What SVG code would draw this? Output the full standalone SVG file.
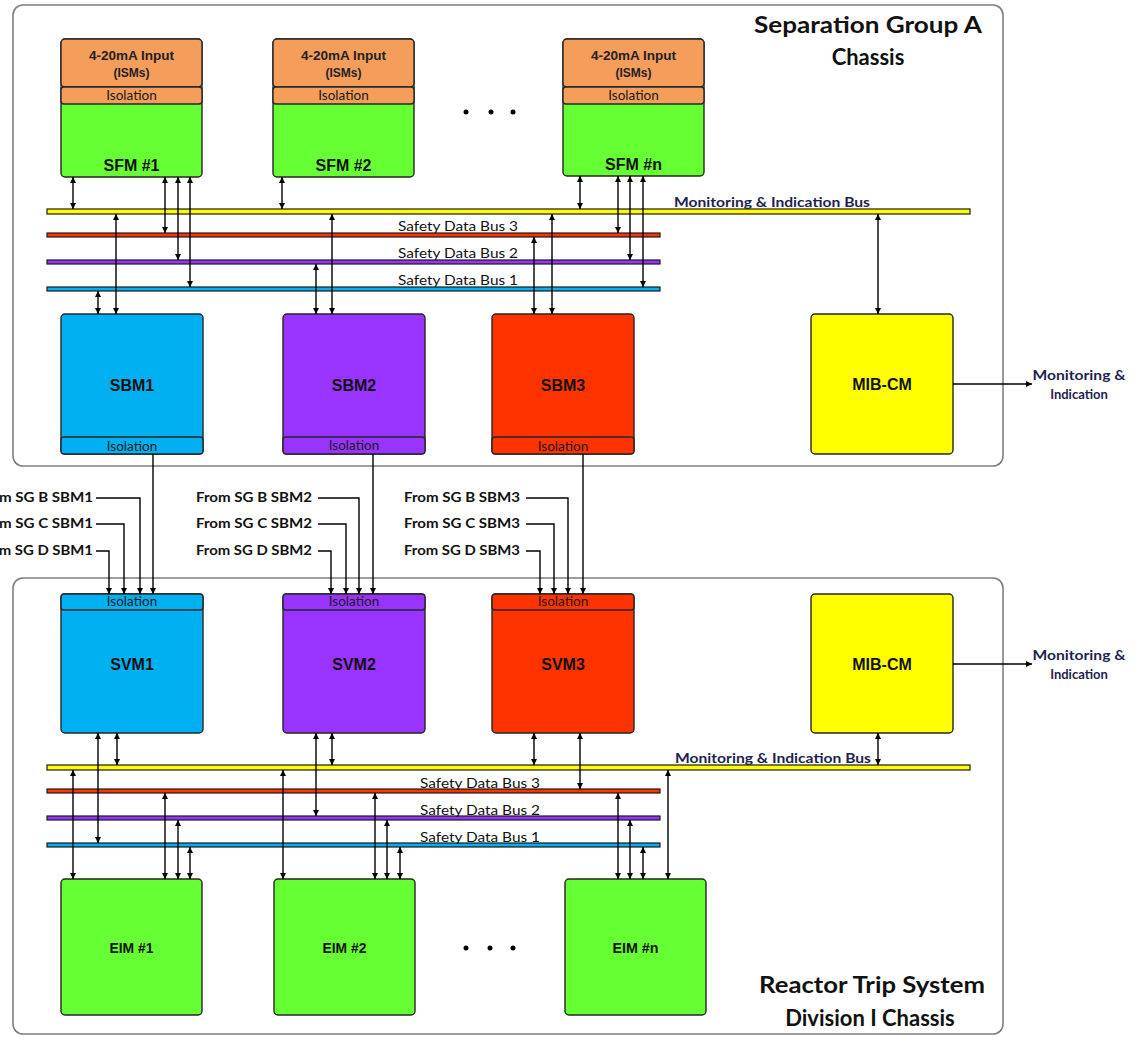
<svg xmlns="http://www.w3.org/2000/svg" width="1144" height="1037" viewBox="0 0 1144 1037">
<defs>
<marker id="ah" viewBox="0 0 6 6" refX="6" refY="3" markerWidth="6" markerHeight="6" markerUnits="userSpaceOnUse" orient="auto-start-reverse">
<path d="M0,0 L6,3 L0,6 z" fill="#000"/>
</marker>
<style>
.chassis{fill:#fff;stroke:#7f7f7f;stroke-width:1.6}
.box{stroke:#262626;stroke-width:1.4}
.green{fill:#66FF33}.orange{fill:#F59D5B}.blue{fill:#00B0F0}.purple{fill:#9933FF}.red{fill:#FF3300}.yellow{fill:#FFFF00}
.bus{stroke:#1a1a1a;stroke-width:1.2}
.c{fill:none;stroke:#000;stroke-width:1.4}
.bi{marker-start:url(#ah);marker-end:url(#ah)}
.one{marker-end:url(#ah)}
.lbl{font-family:"Liberation Sans",Arial,sans-serif;font-weight:bold;font-size:16px;fill:#111;text-anchor:middle}
.small{font-family:"Liberation Sans",Arial,sans-serif;font-weight:bold;font-size:12px;fill:#222;text-anchor:middle}
.eim{font-family:"Liberation Sans",Arial,sans-serif;font-weight:bold;font-size:14px;fill:#111;text-anchor:middle}
.iso{font-family:Lato,"Open Sans",sans-serif;font-size:13.5px;fill:#1a1a1a;text-anchor:middle}
.title{font-family:Lato,"Open Sans",sans-serif;font-weight:bold;font-size:22px;fill:#111;text-anchor:middle}
.busl{font-family:Lato,"Open Sans",sans-serif;font-weight:bold;font-size:13px;fill:#1F1F50;text-anchor:middle}
.sdb{font-family:Lato,"Open Sans",sans-serif;font-size:13px;fill:#111;text-anchor:middle}
.from{font-family:Lato,"Open Sans",sans-serif;font-weight:bold;font-size:12.5px;fill:#111;text-anchor:end}
.mon{font-family:Lato,"Open Sans",sans-serif;font-weight:bold;font-size:13px;fill:#1F1F50;text-anchor:middle}
</style>
</defs>
<rect width="1144" height="1037" fill="#fff"/>

<g id="chassis-a">
<rect class="chassis" x="13" y="5" width="990" height="461" rx="10"/>
<text class="title" x="868" y="33" textLength="228" lengthAdjust="spacingAndGlyphs">Separation Group A</text>
<text class="title" x="868" y="65">Chassis</text>
</g>
<g id="chassis-b">
<rect class="chassis" x="13" y="578" width="990" height="456" rx="10"/>
<text class="title" x="872" y="993" textLength="226" lengthAdjust="spacingAndGlyphs">Reactor Trip System</text>
<text class="title" x="870" y="1026">Division I Chassis</text>
</g>

<g id="buses">
<rect class="bus yellow" x="47" y="209" width="923" height="5"/>
<rect class="bus red" x="47" y="233" width="613" height="4"/>
<rect class="bus purple" x="47" y="260" width="613" height="4"/>
<rect class="bus blue" x="47" y="287" width="613" height="4"/>
<text class="busl" x="772" y="207" textLength="196" lengthAdjust="spacingAndGlyphs">Monitoring &amp; Indication Bus</text>
<text class="sdb" x="458" y="231" textLength="120" lengthAdjust="spacingAndGlyphs">Safety Data Bus 3</text>
<text class="sdb" x="458" y="258" textLength="120" lengthAdjust="spacingAndGlyphs">Safety Data Bus 2</text>
<text class="sdb" x="458" y="285" textLength="120" lengthAdjust="spacingAndGlyphs">Safety Data Bus 1</text>

<rect class="bus yellow" x="47" y="765" width="923" height="5"/>
<rect class="bus red" x="47" y="789" width="613" height="4"/>
<rect class="bus purple" x="47" y="816" width="613" height="4"/>
<rect class="bus blue" x="47" y="843" width="613" height="4"/>
<text class="busl" x="773" y="763" textLength="196" lengthAdjust="spacingAndGlyphs">Monitoring &amp; Indication Bus</text>
<text class="sdb" x="480" y="788" textLength="120" lengthAdjust="spacingAndGlyphs">Safety Data Bus 3</text>
<text class="sdb" x="480" y="815" textLength="120" lengthAdjust="spacingAndGlyphs">Safety Data Bus 2</text>
<text class="sdb" x="480" y="842" textLength="120" lengthAdjust="spacingAndGlyphs">Safety Data Bus 1</text>
</g>

<g id="sfm1">
<rect class="box green" x="61" y="39" width="141" height="138" rx="4"/>
<rect class="box orange" x="61" y="39" width="141" height="48" rx="4"/>
<rect class="box orange" x="61" y="87" width="141" height="17" rx="3"/>
<text class="small" x="131.5" y="60" textLength="85" lengthAdjust="spacingAndGlyphs">4-20mA Input</text>
<text class="small" x="131.5" y="77">(ISMs)</text>
<text class="iso" x="131.5" y="100">Isolation</text>
<text class="lbl" x="131.5" y="171">SFM #1</text>
</g>
<g id="sfm2">
<rect class="box green" x="273" y="39" width="141" height="138" rx="4"/>
<rect class="box orange" x="273" y="39" width="141" height="48" rx="4"/>
<rect class="box orange" x="273" y="87" width="141" height="17" rx="3"/>
<text class="small" x="343.5" y="60" textLength="85" lengthAdjust="spacingAndGlyphs">4-20mA Input</text>
<text class="small" x="343.5" y="77">(ISMs)</text>
<text class="iso" x="343.5" y="100">Isolation</text>
<text class="lbl" x="343.5" y="171">SFM #2</text>
</g>
<g id="sfmn">
<rect class="box green" x="563" y="39" width="141" height="137" rx="4"/>
<rect class="box orange" x="563" y="39" width="141" height="48" rx="4"/>
<rect class="box orange" x="563" y="87" width="141" height="17" rx="3"/>
<text class="small" x="633.5" y="60" textLength="85" lengthAdjust="spacingAndGlyphs">4-20mA Input</text>
<text class="small" x="633.5" y="77">(ISMs)</text>
<text class="iso" x="633.5" y="100">Isolation</text>
<text class="lbl" x="633.5" y="170">SFM #n</text>
</g>
<g id="dots-top">
<circle cx="466" cy="112" r="2.5"/><circle cx="491" cy="112" r="2.5"/><circle cx="513" cy="112" r="2.5"/>
</g>

<g id="sbm1">
<rect class="box blue" x="61" y="314" width="142" height="140" rx="4"/>
<rect class="box blue" x="61" y="437" width="142" height="17" rx="3"/>
<text class="lbl" x="132" y="391">SBM1</text>
<text class="iso" x="132" y="451">Isolation</text>
</g>
<g id="sbm2">
<rect class="box purple" x="283" y="314" width="142" height="140" rx="4"/>
<rect class="box purple" x="283" y="437" width="142" height="17" rx="3"/>
<text class="lbl" x="354" y="391">SBM2</text>
<text class="iso" x="354" y="450">Isolation</text>
</g>
<g id="sbm3">
<rect class="box red" x="492" y="314" width="142" height="140" rx="4"/>
<rect class="box red" x="492" y="437" width="142" height="17" rx="3"/>
<text class="lbl" x="563" y="391">SBM3</text>
<text class="iso" x="563" y="451">Isolation</text>
</g>
<g id="mibcm-a">
<rect class="box yellow" x="811" y="314" width="142" height="140" rx="4"/>
<text class="lbl" x="882" y="390">MIB-CM</text>
</g>
<g id="mon-a">
<text class="mon" x="1079" y="380" textLength="93" lengthAdjust="spacingAndGlyphs">Monitoring &amp;</text>
<text class="mon" x="1079" y="399">Indication</text>
</g>

<g id="from-labels">
<text class="from" x="93" y="502" textLength="116" lengthAdjust="spacingAndGlyphs">From SG B SBM1</text>
<text class="from" x="93" y="528" textLength="116" lengthAdjust="spacingAndGlyphs">From SG C SBM1</text>
<text class="from" x="93" y="555" textLength="116" lengthAdjust="spacingAndGlyphs">From SG D SBM1</text>
<text class="from" x="312" y="502" textLength="116" lengthAdjust="spacingAndGlyphs">From SG B SBM2</text>
<text class="from" x="312" y="528" textLength="116" lengthAdjust="spacingAndGlyphs">From SG C SBM2</text>
<text class="from" x="312" y="555" textLength="116" lengthAdjust="spacingAndGlyphs">From SG D SBM2</text>
<text class="from" x="520" y="502" textLength="116" lengthAdjust="spacingAndGlyphs">From SG B SBM3</text>
<text class="from" x="520" y="528" textLength="116" lengthAdjust="spacingAndGlyphs">From SG C SBM3</text>
<text class="from" x="520" y="555" textLength="116" lengthAdjust="spacingAndGlyphs">From SG D SBM3</text>
</g>

<g id="svm1">
<rect class="box blue" x="61" y="594" width="142" height="139" rx="4"/>
<rect class="box blue" x="61" y="594" width="142" height="16" rx="3"/>
<text class="iso" x="132" y="606">Isolation</text>
<text class="lbl" x="132" y="670">SVM1</text>
</g>
<g id="svm2">
<rect class="box purple" x="283" y="594" width="142" height="139" rx="4"/>
<rect class="box purple" x="283" y="594" width="142" height="16" rx="3"/>
<text class="iso" x="354" y="606">Isolation</text>
<text class="lbl" x="354" y="670">SVM2</text>
</g>
<g id="svm3">
<rect class="box red" x="492" y="594" width="142" height="139" rx="4"/>
<rect class="box red" x="492" y="594" width="142" height="16" rx="3"/>
<text class="iso" x="563" y="606">Isolation</text>
<text class="lbl" x="563" y="670">SVM3</text>
</g>
<g id="mibcm-b">
<rect class="box yellow" x="811" y="594" width="142" height="139" rx="4"/>
<text class="lbl" x="882" y="670">MIB-CM</text>
</g>
<g id="mon-b">
<text class="mon" x="1079" y="660" textLength="93" lengthAdjust="spacingAndGlyphs">Monitoring &amp;</text>
<text class="mon" x="1079" y="679">Indication</text>
</g>

<g id="eim1">
<rect class="box green" x="61" y="879" width="141" height="136" rx="4"/>
<text class="eim" x="131.5" y="953" textLength="44" lengthAdjust="spacingAndGlyphs">EIM #1</text>
</g>
<g id="eim2">
<rect class="box green" x="274" y="879" width="141" height="136" rx="4"/>
<text class="eim" x="344.5" y="953" textLength="44" lengthAdjust="spacingAndGlyphs">EIM #2</text>
</g>
<g id="eimn">
<rect class="box green" x="565" y="879" width="141" height="136" rx="4"/>
<text class="eim" x="635.5" y="953" textLength="46" lengthAdjust="spacingAndGlyphs">EIM #n</text>
</g>
<g id="dots-bottom">
<circle cx="466" cy="948" r="2.5"/><circle cx="490" cy="948" r="2.5"/><circle cx="513" cy="948" r="2.5"/>
</g>

<g id="connectors">
<line class="c bi" x1="73" y1="177" x2="73" y2="209"/>
<line class="c bi" x1="165" y1="177" x2="165" y2="233"/>
<line class="c bi" x1="178" y1="177" x2="178" y2="260"/>
<line class="c bi" x1="190" y1="177" x2="190" y2="287"/>
<line class="c bi" x1="282" y1="177" x2="282" y2="209"/>
<line class="c bi" x1="580" y1="176" x2="580" y2="209"/>
<line class="c bi" x1="618" y1="176" x2="618" y2="233"/>
<line class="c bi" x1="630" y1="176" x2="630" y2="260"/>
<line class="c bi" x1="643" y1="176" x2="643" y2="287"/>
<line class="c bi" x1="98" y1="291" x2="98" y2="314"/>
<line class="c bi" x1="116" y1="214" x2="116" y2="314"/>
<line class="c bi" x1="316" y1="264" x2="316" y2="314"/>
<line class="c bi" x1="332" y1="214" x2="332" y2="314"/>
<line class="c bi" x1="534" y1="237" x2="534" y2="314"/>
<line class="c bi" x1="552" y1="214" x2="552" y2="314"/>
<line class="c bi" x1="878" y1="214" x2="878" y2="314"/>
<line class="c one" x1="953" y1="384" x2="1032" y2="384"/>
<line class="c one" x1="153" y1="454" x2="153" y2="594"/>
<line class="c one" x1="373" y1="454" x2="373" y2="594"/>
<line class="c one" x1="583" y1="454" x2="583" y2="594"/>
<polyline class="c one" points="96,498 140,498 140,594"/>
<polyline class="c one" points="96,524 124,524 124,594"/>
<polyline class="c one" points="96,551 109,551 109,594"/>
<polyline class="c one" points="318,498 359,498 359,594"/>
<polyline class="c one" points="318,524 346,524 346,594"/>
<polyline class="c one" points="318,551 331,551 331,594"/>
<polyline class="c one" points="526,498 568,498 568,594"/>
<polyline class="c one" points="526,524 554,524 554,594"/>
<polyline class="c one" points="526,551 540,551 540,594"/>
<line class="c bi" x1="98" y1="733" x2="98" y2="843"/>
<line class="c bi" x1="117" y1="733" x2="117" y2="765"/>
<line class="c bi" x1="316" y1="733" x2="316" y2="816"/>
<line class="c bi" x1="332" y1="733" x2="332" y2="765"/>
<line class="c bi" x1="534" y1="733" x2="534" y2="765"/>
<line class="c bi" x1="580" y1="733" x2="580" y2="789"/>
<line class="c bi" x1="878" y1="733" x2="878" y2="765"/>
<line class="c one" x1="953" y1="664" x2="1032" y2="664"/>
<line class="c bi" x1="73" y1="770" x2="73" y2="879"/>
<line class="c bi" x1="165" y1="793" x2="165" y2="879"/>
<line class="c bi" x1="178" y1="820" x2="178" y2="879"/>
<line class="c bi" x1="190" y1="847" x2="190" y2="879"/>
<line class="c bi" x1="283" y1="770" x2="283" y2="879"/>
<line class="c bi" x1="375" y1="793" x2="375" y2="879"/>
<line class="c bi" x1="387" y1="820" x2="387" y2="879"/>
<line class="c bi" x1="400" y1="847" x2="400" y2="879"/>
<line class="c bi" x1="618" y1="793" x2="618" y2="879"/>
<line class="c bi" x1="630" y1="820" x2="630" y2="879"/>
<line class="c bi" x1="643" y1="847" x2="643" y2="879"/>
<line class="c bi" x1="668" y1="770" x2="668" y2="879"/>
</g>
</svg>
